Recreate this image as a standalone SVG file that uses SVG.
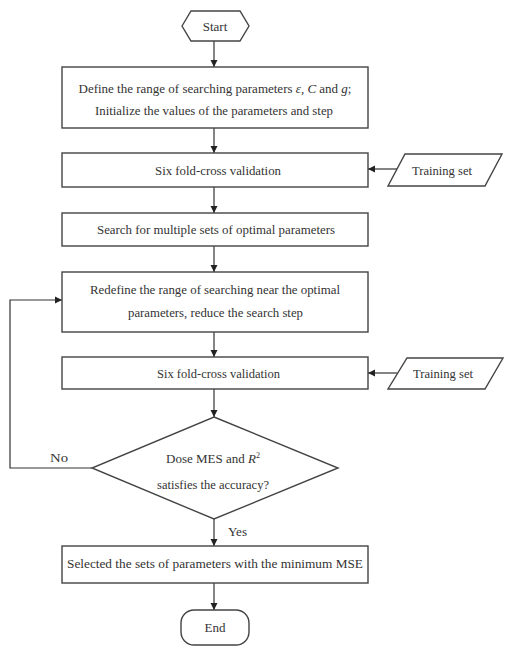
<svg xmlns="http://www.w3.org/2000/svg" width="505" height="648" viewBox="0 0 505 648">
<defs>
<marker id="ah" markerWidth="8" markerHeight="8" refX="7" refY="4" orient="auto" markerUnits="userSpaceOnUse">
<path d="M0,0.5 L7,4 L0,7.5 Z" fill="#222"/>
</marker>
<style>
.s{fill:#fff;stroke:#444;stroke-width:1.4}
.c{fill:none;stroke:#333;stroke-width:1.2}
.t{font-family:"Liberation Serif","Times New Roman","DejaVu Serif",serif;font-size:13px;fill:#333}
.m{text-anchor:middle}
.i{font-style:italic}
</style>
</defs>
<rect width="505" height="648" fill="#fff"/>
<g id="connectors">
<line class="c" x1="214" y1="41" x2="214" y2="67" marker-end="url(#ah)"/>
<line class="c" x1="214" y1="128" x2="214" y2="153" marker-end="url(#ah)"/>
<line class="c" x1="214" y1="187" x2="214" y2="213" marker-end="url(#ah)"/>
<line class="c" x1="214" y1="246" x2="214" y2="272" marker-end="url(#ah)"/>
<line class="c" x1="214" y1="332" x2="214" y2="357" marker-end="url(#ah)"/>
<line class="c" x1="214" y1="389" x2="214" y2="417" marker-end="url(#ah)"/>
<line class="c" x1="214" y1="519" x2="214" y2="546" marker-end="url(#ah)"/>
<line class="c" x1="214" y1="583" x2="214" y2="610" marker-end="url(#ah)"/>
<line class="c" x1="397" y1="169" x2="368" y2="169" marker-end="url(#ah)"/>
<line class="c" x1="397" y1="373" x2="368" y2="373" marker-end="url(#ah)"/>
<polyline class="c" points="92,468 10,468 10,300 62,300" marker-end="url(#ah)"/>
<text class="t" x="50" y="462" font-family="Liberation Serif, serif" textLength="18" lengthAdjust="spacingAndGlyphs">No</text>
<text class="t" x="228" y="536" font-family="Liberation Serif, serif" textLength="19" lengthAdjust="spacingAndGlyphs">Yes</text>
</g>
<g id="start">
<polygon class="s" points="182,26 191,11 240,11 249,26 240,41 191,41"/>
<text class="t m" x="215" y="31" font-family="Liberation Serif, serif">Start</text>
</g>
<g id="define">
<rect class="s" x="62" y="67" width="306" height="61"/>
<text class="t m" x="215" y="93" font-family="Liberation Serif, serif" font-size="12">Define the range of searching parameters <tspan class="i">ε</tspan>, <tspan class="i">C</tspan> and <tspan class="i">g</tspan>;</text>
<text class="t" x="95" y="115" font-family="Liberation Serif, serif" textLength="238" lengthAdjust="spacingAndGlyphs">Initialize the values of the parameters and step</text>
</g>
<g id="cv1">
<rect class="s" x="62" y="153" width="306" height="34"/>
<text class="t" x="155" y="175" font-family="Liberation Serif, serif" textLength="126" lengthAdjust="spacingAndGlyphs">Six fold-cross validation</text>
</g>
<g id="train1">
<polygon class="s" points="405,154 502,154 485,186 388,186"/>
<text class="t" x="412" y="175" font-family="Liberation Serif, serif" textLength="60" lengthAdjust="spacingAndGlyphs">Training set</text>
</g>
<g id="search">
<rect class="s" x="62" y="213" width="306" height="33"/>
<text class="t" x="97" y="234" font-family="Liberation Serif, serif" textLength="238" lengthAdjust="spacingAndGlyphs">Search for multiple sets of optimal parameters</text>
</g>
<g id="redefine">
<rect class="s" x="62" y="272" width="306" height="60"/>
<text class="t" x="90" y="294" font-family="Liberation Serif, serif" textLength="250" lengthAdjust="spacingAndGlyphs">Redefine the range of searching near the optimal</text>
<text class="t" x="128" y="317" font-family="Liberation Serif, serif" textLength="175" lengthAdjust="spacingAndGlyphs">parameters, reduce the search step</text>
</g>
<g id="cv2">
<rect class="s" x="62" y="357" width="306" height="32"/>
<text class="t" x="157" y="378" font-family="Liberation Serif, serif" textLength="123" lengthAdjust="spacingAndGlyphs">Six fold-cross validation</text>
</g>
<g id="train2">
<polygon class="s" points="407,358 503,358 485,389 388,389"/>
<text class="t" x="413" y="378" font-family="Liberation Serif, serif" textLength="60" lengthAdjust="spacingAndGlyphs">Training set</text>
</g>
<g id="decision">
<polygon class="s" points="214,417 338,468 214,519 92,468"/>
<text class="t m" x="213" y="463" font-family="Liberation Serif, serif">Dose MES and <tspan class="i">R</tspan><tspan font-size="8" dy="-5">2</tspan></text>
<text class="t" x="157" y="489" font-family="Liberation Serif, serif" textLength="112" lengthAdjust="spacingAndGlyphs">satisfies the accuracy?</text>
</g>
<g id="select">
<rect class="s" x="62" y="546" width="306" height="37"/>
<text class="t" x="67" y="568" font-family="Liberation Serif, serif" textLength="296" lengthAdjust="spacingAndGlyphs">Selected the sets of parameters with the minimum MSE</text>
</g>
<g id="end">
<rect class="s" x="181" y="610" width="68" height="35" rx="13"/>
<text class="t m" x="215" y="632" font-family="Liberation Serif, serif">End</text>
</g>
</svg>
